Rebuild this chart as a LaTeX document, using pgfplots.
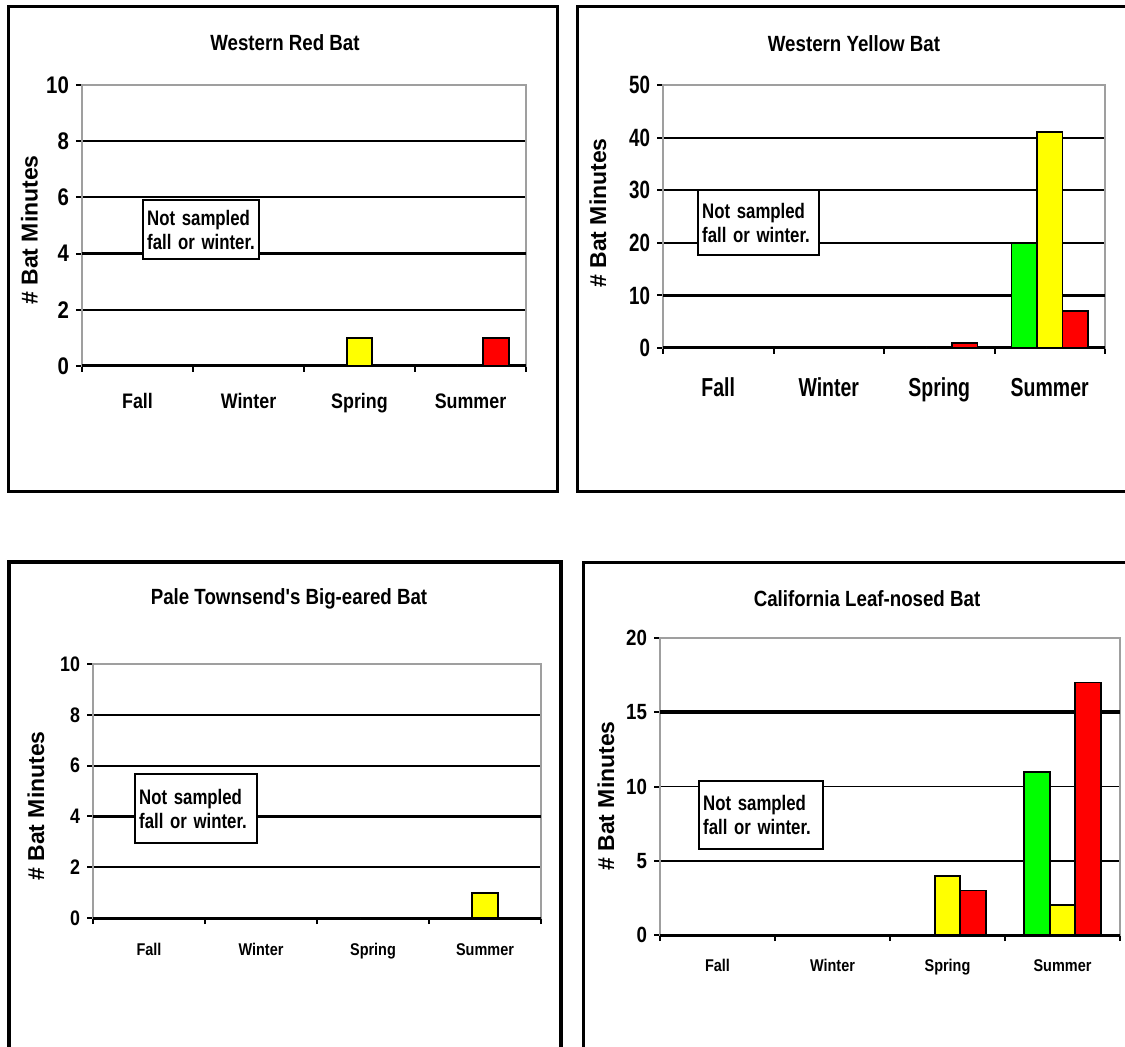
\documentclass[border=0pt]{standalone}
\usepackage{fontspec}
\setmainfont{Liberation Sans}
\newfontfamily\narrow{Liberation Sans}[FakeStretch=0.85]
\newfontfamily\xnarrow{Liberation Sans}[FakeStretch=0.75]
\newfontfamily\nnarrow{Liberation Sans}[FakeStretch=0.8]
\usepackage{pgfplots}
\pgfplotsset{compat=1.18}
\definecolor{bgreen}{RGB}{0,255,0}
\definecolor{byellow}{RGB}{255,255,0}
\definecolor{bred}{RGB}{255,0,0}
\pgfplotsset{
  batax/.style={
    scale only axis, xmin=0, xmax=4, ymin=0,
    axis line style={draw=gray!75, line width=1pt},
    tick align=outside, tick pos=left, major tick length=3pt, minor tick length=3pt,
    xtick={0.5,1.5,2.5,3.5}, xticklabels={Fall,Winter,Spring,Summer},
    minor xtick={0,1,2,3,4},
    major x tick style={draw=none},
    minor x tick style={draw=black, line width=1pt},
    major y tick style={draw=black, line width=1pt},
    ymajorgrids, major grid style={black, line width=0.9pt},
    /pgf/number format/assume math mode=true,
    xticklabel style={anchor=base},
    clip=false,
  },
  sbar/.style={ybar, bar width=12.75pt, draw=black, line width=0.9pt},
}
\newcommand{\ttl}{\narrow\bfseries\fontsize{11}{13}\selectfont}
\newcommand{\ylab}{\bfseries\fontsize{11.5}{13}\selectfont}
\newcommand{\note}{\nnarrow\bfseries\fontsize{10.5}{10}\selectfont}
\newcommand{\notetext}{\note\mbox{Not sampled}\\\mbox{fall or winter.}}
\begin{document}
\begin{tikzpicture}
\useasboundingbox (0,0) rectangle (562.5pt,-523.5pt);
% frames
\draw[line width=1.5pt] (4pt,-3.5pt) rectangle (278.5pt,-246pt);
\draw[line width=1.5pt] (562.5pt,-3.5pt) -- (288.5pt,-3.5pt) -- (288.5pt,-246pt) -- (562.5pt,-246pt);
\draw[line width=1.7pt] (4.5pt,-524pt) -- (4.5pt,-281pt) -- (280.5pt,-281pt) -- (280.5pt,-524pt);
\draw[line width=1.5pt] (291.5pt,-524pt) -- (291.5pt,-281.5pt) -- (562.5pt,-281.5pt);

% Panel 1: Western Red Bat
\begin{axis}[batax, at={(41pt,-183pt)}, anchor=south west, width=222pt, height=140.5pt,
  ymax=10, ytick={0,2,...,10},
  yticklabel style={font={\narrow\bfseries\fontsize{12}{14}\selectfont}},
  xticklabel style={font={\narrow\bfseries\fontsize{10.5}{12}\selectfont}, yshift=-18.4pt}]
  \draw[black, line width=1.8pt] (axis cs:0,4) -- (axis cs:4,4);
  \draw[black, line width=1.5pt] (rel axis cs:0,0) -- (rel axis cs:1,0);
  \addplot[sbar, bar shift=-12.75pt, fill=bgreen] coordinates {(2.5,0) (3.5,0)};
  \addplot[sbar, bar shift=0pt, fill=byellow] coordinates {(2.5,1) (3.5,0)};
  \addplot[sbar, bar shift=12.75pt, fill=bred] coordinates {(2.5,0) (3.5,1)};
\end{axis}

% Panel 2: Western Yellow Bat
\begin{axis}[batax, at={(331.5pt,-174pt)}, anchor=south west, width=221pt, height=131.5pt,
  ymax=50, ytick={0,10,...,50},
  yticklabel style={font={\xnarrow\bfseries\fontsize{12.5}{14}\selectfont}},
  xticklabel style={font={\xnarrow\bfseries\fontsize{13}{15}\selectfont}, yshift=-21.2pt}]
  \draw[black, line width=1.8pt] (axis cs:0,10) -- (axis cs:4,10);
  \draw[black, line width=1.5pt] (rel axis cs:0,0) -- (rel axis cs:1,0);
  \addplot[sbar, bar shift=-12.75pt, fill=bgreen] coordinates {(2.5,0) (3.5,20)};
  \addplot[sbar, bar shift=0pt, fill=byellow] coordinates {(2.5,0) (3.5,41)};
  \addplot[sbar, bar shift=12.75pt, fill=bred] coordinates {(2.5,1) (3.5,7)};
\end{axis}

% Panel 3: Pale Townsend's Big-eared Bat
\begin{axis}[batax, at={(46.5pt,-459pt)}, anchor=south west, width=224pt, height=127pt,
  ymax=10, ytick={0,2,...,10},
  yticklabel style={font={\narrow\bfseries\fontsize{10.5}{12}\selectfont}},
  xticklabel style={font={\narrow\bfseries\fontsize{8.5}{10}\selectfont}, yshift=-15.6pt}]
  \draw[black, line width=1.8pt] (axis cs:0,4) -- (axis cs:4,4);
  \draw[black, line width=1.5pt] (rel axis cs:0,0) -- (rel axis cs:1,0);
  \addplot[sbar, bar shift=-12.75pt, fill=bgreen] coordinates {(2.5,0) (3.5,0)};
  \addplot[sbar, bar shift=0pt, fill=byellow] coordinates {(2.5,0) (3.5,1)};
  \addplot[sbar, bar shift=12.75pt, fill=bred] coordinates {(2.5,0) (3.5,0)};
\end{axis}

% Panel 4: California Leaf-nosed Bat
\begin{axis}[batax, at={(330pt,-467.5pt)}, anchor=south west, width=230pt, height=148.5pt,
  ymax=20, ytick={0,5,...,20},
  yticklabel style={font={\narrow\bfseries\fontsize{11}{13}\selectfont}},
  xticklabel style={font={\narrow\bfseries\fontsize{8.5}{10}\selectfont}, yshift=-15.1pt}]
  \draw[black, line width=1.8pt] (axis cs:0,15) -- (axis cs:4,15);
  \draw[black, line width=1.5pt] (rel axis cs:0,0) -- (rel axis cs:1,0);
  \addplot[sbar, bar shift=-12.75pt, fill=bgreen] coordinates {(2.5,0) (3.5,11)};
  \addplot[sbar, bar shift=0pt, fill=byellow] coordinates {(2.5,4) (3.5,2)};
  \addplot[sbar, bar shift=12.75pt, fill=bred] coordinates {(2.5,3) (3.5,17)};
\end{axis}

% titles
\node at (142.5pt,-21.5pt) {\ttl Western Red Bat};
\node at (427pt,-22pt) {\ttl Western Yellow Bat};
\node at (144.5pt,-299.5pt) {\ttl Pale Townsend's Big-eared Bat};
\node at (433.5pt,-299.5pt) {\ttl California Leaf-nosed Bat};
% y labels
\node[rotate=90] at (14.75pt,-115pt) {\ylab \# Bat Minutes};
\node[rotate=90] at (299pt,-106.5pt) {\ylab \# Bat Minutes};
\node[rotate=90] at (18pt,-403pt) {\ylab \# Bat Minutes};
\node[rotate=90] at (303pt,-398pt) {\ylab \# Bat Minutes};
% notes
\node[draw, fill=white, line width=1.2pt, anchor=north west, text width=54pt, inner sep=2pt, minimum height=29.5pt, align=left] at (71pt,-99.5pt) {\notetext};
\node[draw, fill=white, line width=1.2pt, anchor=north west, text width=56.5pt, inner sep=2pt, minimum height=32.5pt, align=left] at (348.5pt,-94.5pt) {\notetext};
\node[draw, fill=white, line width=1.2pt, anchor=north west, text width=57pt, inner sep=2pt, minimum height=34.5pt, align=left] at (67pt,-386.5pt) {\notetext};
\node[draw, fill=white, line width=1.2pt, anchor=north west, text width=58pt, inner sep=2pt, minimum height=34pt, align=left] at (349pt,-390pt) {\notetext};
\end{tikzpicture}
\end{document}
